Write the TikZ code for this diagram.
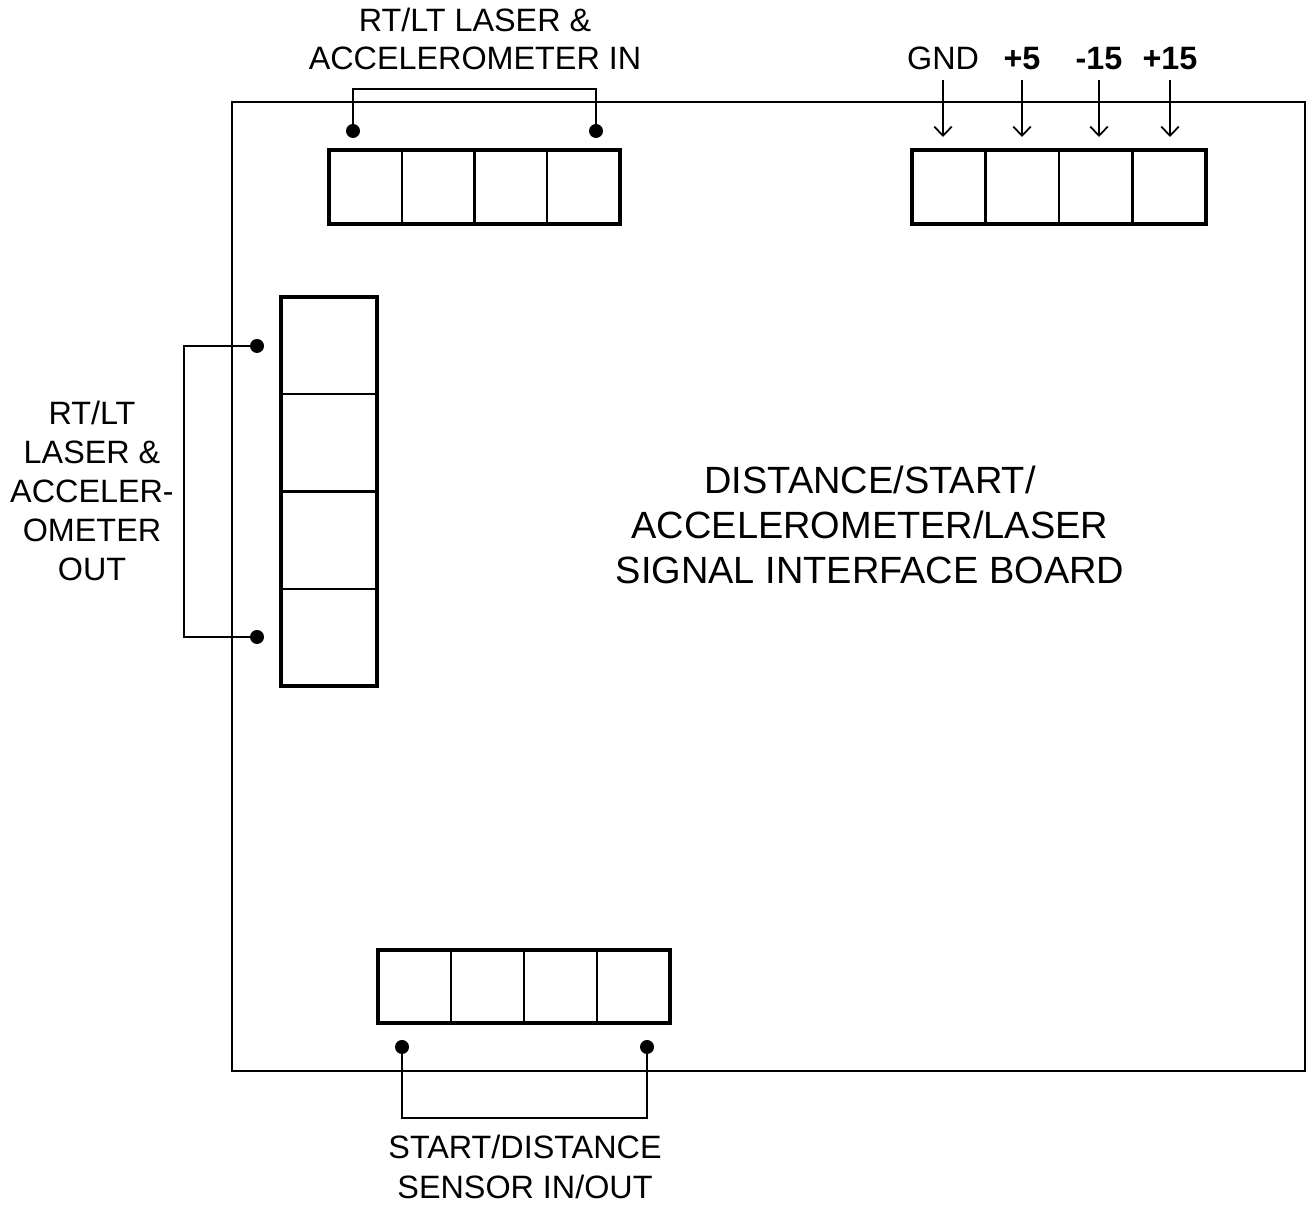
\documentclass[tikz,border=0pt]{standalone}
\usepackage{fontspec}
\setmainfont{Liberation Sans}
\usetikzlibrary{arrows.meta}
\tikzset{
  boxline/.style={line width=1.1pt},
  cellline/.style={line width=0.6pt},
  wire/.style={line width=0.6pt},
  pin/.style={circle,fill,inner sep=0pt,minimum size=0.14cm},
  lbl/.style={align=center,inner sep=0pt,font=\fontsize{9.2}{10.9}\selectfont},
  tip/.style={-{Straight Barb[length=2.6pt,width=5pt]},line width=0.5pt}
}
\begin{document}
\begin{tikzpicture}
\useasboundingbox (0,0) rectangle (13.06,12.05);
% board
\draw[line width=0.8pt] (2.32,1.34) rectangle (13.05,11.03);
\node[align=center,inner sep=0pt,font=\fontsize{10.8}{12.8}\selectfont] (title) at (8.70,6.80)
  {DISTANCE/START/\\ACCELEROMETER/LASER\\SIGNAL INTERFACE BOARD};
% top left connector
\draw[boxline] (3.29,9.81) rectangle (6.20,10.55);
\foreach \i in {1,2,3}{
    \draw[cellline] (3.29+\i*0.7275,9.81)--(3.29+\i*0.7275,10.55);
}
% top right connector
\draw[boxline] (9.12,9.81) rectangle (12.06,10.55);
\foreach \i in {1,2,3}{
    \draw[cellline] (9.12+\i*0.735,9.81)--(9.12+\i*0.735,10.55);
}
% left connector
\draw[boxline] (2.81,5.19) rectangle (3.77,9.08);
\foreach \i in {1,2,3}{
    \draw[cellline] (2.81,5.19+\i*0.9725)--(3.77,5.19+\i*0.9725);
}
% bottom connector
\draw[boxline] (3.78,1.82) rectangle (6.70,2.55);
\foreach \i in {1,2,3}{
    \draw[cellline] (3.78+\i*0.73,1.82)--(3.78+\i*0.73,2.55);
}
% pins
\node[pin] (inA) at (3.53,10.74) {};
\node[pin] (inB) at (5.96,10.74) {};
\node[pin] (outA) at (2.57,8.59) {};
\node[pin] (outB) at (2.57,5.68) {};
\node[pin] (senA) at (4.02,1.58) {};
\node[pin] (senB) at (6.47,1.58) {};
% brackets
\draw[wire] (inA.center)--(3.53,11.16)-|(inB.center);
\draw[wire] (outA.center)--(1.84,8.59)|-(outB.center);
\draw[wire] (senA.center)--(4.02,0.87)-|(senB.center);
% labels
\node[lbl] (inlbl) at (4.75,11.66) {RT/LT LASER \&\\ACCELEROMETER IN};
\node[lbl,font=\fontsize{9.2}{11.1}\selectfont] (outlbl) at (0.92,7.14)
  {RT/LT\\LASER \&\\ACCELER-\\OMETER\\OUT};
\node[lbl,font=\fontsize{9.2}{11.3}\selectfont] (senlbl) at (5.25,0.38) {START/DISTANCE\\SENSOR IN/OUT};
% power
\foreach \nm/\x/\txt in {gnd/9.43/GND,pfive/10.22/\textbf{+5},mfif/10.99/\textbf{-15},pfif/11.70/\textbf{+15}}{
    \node[lbl,anchor=base] (\nm) at (\x,11.35) {\txt};
    \coordinate (\nm top) at (\x,11.25);
    \coordinate (\nm pin) at (\x,10.68);
    \draw[tip] (\nm top)--(\nm pin);
}
\end{tikzpicture}
\end{document}
